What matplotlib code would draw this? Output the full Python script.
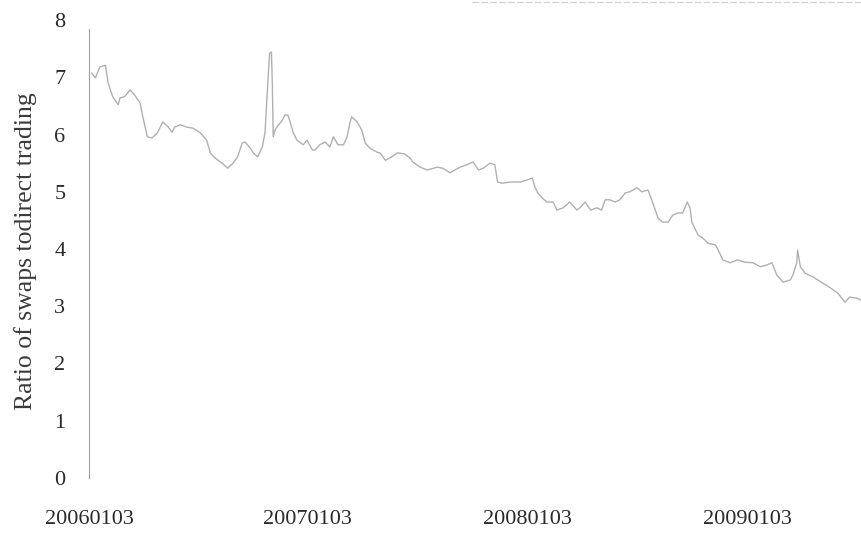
import matplotlib
matplotlib.use("Agg")
import matplotlib.pyplot as plt
from matplotlib.lines import Line2D

# trading-day index since 2006-01-03 and the swaps / direct trading ratio
day_index = [3, 7, 12, 18, 21, 26, 32, 34, 39, 45, 50, 56, 59, 64, 69, 75, 81, 87, 91, 94,
             100, 107, 114, 122, 129, 133, 138, 146, 152, 158, 163, 168, 171, 177, 180, 185,
             190, 193, 195, 197, 198, 200, 201, 202, 204, 206, 212, 215, 218, 220, 224, 228,
             235, 239, 245, 248, 253, 259, 264, 268, 273, 279, 283, 286, 288, 294, 299, 303,
             308, 316, 319, 325, 332, 338, 346, 352, 355, 363, 371, 382, 388, 396, 401, 407,
             414, 421, 427, 432, 440, 445, 448, 453, 462, 473, 481, 486, 489, 492, 497, 502,
             509, 513, 520, 527, 535, 539, 544, 550, 557, 562, 566, 571, 577, 582, 588, 593,
             601, 606, 613, 617, 621, 624, 629, 635, 640, 646, 651, 656, 659, 661, 664, 668,
             673, 679, 687, 690, 695, 703, 711, 719, 728, 736, 743, 749, 754, 761, 769, 772,
             776, 777, 780, 785, 794, 804, 813, 821, 829, 834, 842, 846]

ratio = [7.07, 6.99, 7.18, 7.21, 6.90, 6.66, 6.52, 6.64, 6.66, 6.78, 6.69, 6.55, 6.31, 5.96,
         5.94, 6.03, 6.22, 6.13, 6.04, 6.13, 6.17, 6.13, 6.11, 6.03, 5.90, 5.68, 5.59, 5.50,
         5.41, 5.50, 5.61, 5.85, 5.87, 5.76, 5.68, 5.61, 5.78, 6.03, 6.60, 7.13, 7.42, 7.44,
         6.90, 5.96, 6.08, 6.13, 6.25, 6.34, 6.34, 6.25, 6.03, 5.90, 5.82, 5.90, 5.73, 5.73,
         5.82, 5.87, 5.78, 5.96, 5.82, 5.82, 5.96, 6.20, 6.31, 6.22, 6.08, 5.85, 5.76, 5.69,
         5.68, 5.55, 5.61, 5.68, 5.66, 5.59, 5.52, 5.43, 5.38, 5.43, 5.41, 5.33, 5.38, 5.43,
         5.47, 5.52, 5.38, 5.41, 5.50, 5.47, 5.17, 5.15, 5.17, 5.17, 5.21, 5.24, 5.08, 4.98,
         4.89, 4.82, 4.82, 4.68, 4.72, 4.82, 4.68, 4.73, 4.82, 4.68, 4.72, 4.68, 4.86, 4.86,
         4.82, 4.86, 4.98, 5.00, 5.07, 5.00, 5.03, 4.86, 4.68, 4.54, 4.47, 4.47, 4.59, 4.63,
         4.63, 4.82, 4.72, 4.47, 4.37, 4.24, 4.19, 4.10, 4.07, 3.98, 3.81, 3.76, 3.81, 3.77,
         3.76, 3.69, 3.72, 3.76, 3.55, 3.42, 3.46, 3.55, 3.76, 3.98, 3.69, 3.58, 3.51, 3.41,
         3.32, 3.23, 3.07, 3.16, 3.14, 3.11]

tick_days = [0, 240, 481, 722]
tick_labels = ["20060103", "20070103", "20080103", "20090103"]
y_ticks = [0, 1, 2, 3, 4, 5, 6, 7, 8]

plt.rcParams["font.family"] = ["Liberation Serif", "DejaVu Serif"]

fig = plt.figure(figsize=(8.61, 5.35), dpi=100)
ax = fig.add_axes([89 / 861, 57 / 535, 1 - 89 / 861, 458 / 535])

ax.plot(day_index, ratio, color="#b0b0b0", lw=1.0)

ax.set_xlim(0, 846.5)
ax.set_ylim(0, 8)
ax.set_xticks(tick_days)
ax.set_xticklabels(tick_labels)
ax.set_yticks(y_ticks)

for side in ("top", "right", "bottom"):
    ax.spines[side].set_visible(False)
ax.spines["left"].set_color("#a0a0a0")
ax.spines["left"].set_linewidth(0.8)
ax.spines["left"].set_bounds(0, 7.85)

ax.tick_params(axis="y", length=0, pad=17, labelsize=16, labelcolor="#2a2a2a")
ax.tick_params(axis="x", length=0, pad=23, labelsize=16, labelcolor="#2a2a2a")

fig.text(26 / 861, 0.531, "Ratio of swaps todirect trading", rotation=90,
         ha="center", va="center", fontsize=18.5, color="#3a3a3a")

# faint rule along the upper edge
fig.add_artist(Line2D([472 / 861, 1.0], [533.5 / 535, 533.5 / 535],
                      color="#d0d0d0", lw=0.8, linestyle=(0, (6, 2))))

fig.savefig("out.png", dpi=100)
